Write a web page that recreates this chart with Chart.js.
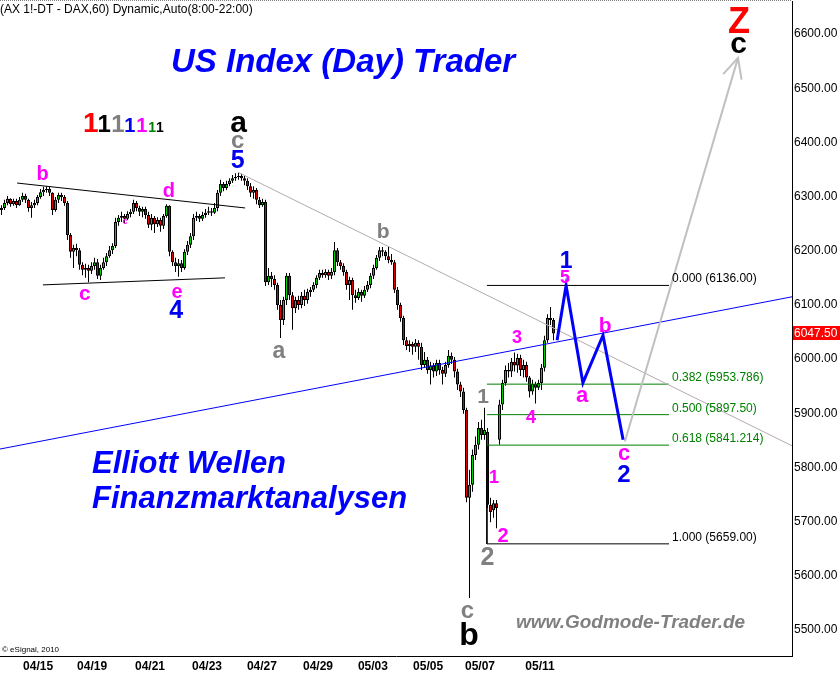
<!DOCTYPE html>
<html><head><meta charset="utf-8">
<script src="https://cdn.jsdelivr.net/npm/chart.js@4.4.1/dist/chart.umd.min.js"></script>
<style>html,body{margin:0;padding:0;background:#fff;overflow:hidden}#wrap{width:840px;height:673px;position:relative}</style>
</head><body><div id="wrap"><canvas id="c" width="840" height="673"></canvas></div>
<script>
// ---- hourly DAX bars ----
const opens=[6275,6279,6288,6296,6286,6292,6284,6294,6301,6294,
6279,6284,6288,6299,6308,6312,6314,6307,6275,6294,
6303,6299,6288,6229,6198,6205,6201,6174,6165,6168,
6163,6172,6179,6154,6168,6179,6190,6201,6209,6253,
6261,6264,6259,6268,6272,6288,6279,6272,6277,6266,
6248,6261,6249,6257,6246,6264,6283,6198,6179,6172,
6177,6168,6198,6211,6227,6261,6264,6259,6266,6270,
6273,6270,6279,6307,6323,6316,6323,6329,6334,6336,
6338,6334,6329,6319,6307,6312,6294,6284,6290,6142,
6154,6148,6137,6100,6072,6109,6154,6118,6094,6109,
6100,6117,6109,6124,6128,6137,6150,6159,6155,6161,
6154,6161,6201,6179,6172,6161,6137,6146,6118,6113,
6124,6117,6128,6137,6154,6168,6187,6201,6198,6190,
6183,6179,6128,6100,6076,6035,6024,6028,6023,6030,
6023,5989,5999,5980,5988,5977,5993,5980,5973,5989,
6006,5999,5977,5953,5940,5906,5744,5768,5823,5842,
5873,5860,5866,5731,5721,5734,5851,5916,5956,5980,
5977,5995,5988,6002,5980,5989,5966,5940,5954,5947,
5956,5984,6035,6076,6072];
const highs=[6284,6294,6301,6297,6296,6296,6299,6307,6305,6296,
6290,6294,6303,6314,6318,6319,6318,6308,6299,6307,
6307,6303,6292,6233,6211,6213,6205,6179,6176,6174,
6179,6187,6185,6174,6187,6196,6209,6214,6261,6266,
6272,6268,6273,6277,6294,6292,6283,6281,6281,6272,
6268,6264,6262,6261,6268,6286,6284,6201,6187,6185,
6183,6203,6218,6233,6268,6272,6268,6272,6277,6281,
6279,6288,6312,6331,6327,6329,6334,6340,6343,6345,
6342,6338,6334,6325,6319,6316,6299,6296,6294,6168,
6161,6155,6141,6109,6115,6159,6159,6124,6115,6117,
6124,6128,6130,6133,6142,6155,6165,6165,6166,6165,
6168,6216,6205,6183,6177,6165,6152,6150,6128,6131,
6128,6135,6144,6159,6174,6192,6207,6207,6201,6207,
6194,6183,6133,6104,6080,6041,6035,6032,6037,6035,
6030,6013,6004,5995,5993,5999,5999,5986,5995,6017,
6012,6004,5982,5958,5947,5910,5796,5833,5857,5884,
5888,5910,5873,5744,5740,5740,5925,5962,5988,5993,
6002,6012,6010,6008,5999,5995,5969,5962,5958,5962,
5991,6043,6083,6096,6076];
const lows=[6266,6275,6284,6281,6283,6279,6283,6290,6288,6272,
6261,6279,6284,6296,6301,6307,6301,6266,6272,6288,
6292,6283,6220,6187,6168,6190,6165,6155,6150,6142,
6157,6165,6148,6146,6165,6172,6187,6194,6205,6246,
6253,6251,6257,6262,6268,6273,6264,6262,6259,6242,
6238,6233,6244,6235,6240,6261,6190,6172,6161,6152,
6161,6165,6192,6205,6220,6255,6253,6255,6261,6266,
6264,6268,6273,6301,6310,6312,6319,6325,6329,6331,
6329,6321,6312,6299,6296,6286,6279,6281,6135,6137,
6133,6128,6091,6039,6063,6100,6109,6054,6085,6091,
6094,6098,6102,6115,6124,6131,6146,6150,6150,6146,
6148,6155,6172,6165,6154,6128,6109,6091,6104,6109,
6106,6113,6124,6131,6148,6165,6181,6190,6183,6177,
6174,6122,6091,6069,6026,6017,6013,6008,6013,5999,
5980,5984,5973,5953,5966,5969,5971,5953,5967,5984,
5991,5966,5943,5930,5899,5736,5559,5755,5814,5833,
5851,5851,5725,5699,5707,5688,5842,5906,5951,5966,
5967,5977,5975,5969,5966,5958,5929,5934,5918,5943,
5943,5977,6030,6063,6035];
const closes=[6279,6288,6296,6286,6292,6284,6294,6301,6294,6279,
6284,6288,6299,6308,6312,6314,6307,6275,6294,6303,
6299,6288,6229,6198,6205,6201,6174,6165,6168,6163,
6172,6179,6154,6168,6179,6190,6201,6209,6253,6261,
6264,6259,6268,6272,6288,6279,6272,6277,6266,6248,
6261,6249,6257,6246,6264,6283,6198,6179,6172,6177,
6168,6198,6211,6227,6261,6264,6259,6266,6270,6273,
6270,6279,6307,6323,6316,6323,6329,6334,6336,6338,
6334,6329,6319,6307,6312,6294,6284,6290,6142,6154,
6148,6137,6100,6072,6109,6154,6118,6094,6109,6100,
6117,6109,6124,6128,6137,6150,6159,6155,6161,6154,
6161,6201,6179,6172,6161,6137,6146,6118,6113,6124,
6117,6128,6137,6154,6168,6187,6201,6198,6190,6183,
6179,6128,6100,6076,6035,6024,6028,6023,6030,6023,
5989,5999,5980,5988,5977,5993,5980,5973,5989,6006,
5999,5977,5953,5940,5906,5744,5768,5823,5842,5873,
5860,5869,5731,5718,5734,5725,5916,5956,5980,5977,
5995,5988,6002,5980,5989,5966,5940,5954,5947,5956,
5984,6035,6076,6072,6047.5];
const lastPrice = 6047.5;

// ---- axis labels ----
const priceTicks   = [5500,5600,5700,5800,5900,6000,6100,6200,6300,6400,6500,6600];
const dateLabels   = ['04/15','04/19','04/21','04/23','04/27','04/29','05/03','05/05','05/07','05/11'];
const dateTickBars = [12.2, 30.2, 49.5, 68.5, 86.8, 105.5, 123.8, 142.2, 159.5, 179.5];

// ---- Fibonacci retracement ----
const fibRatios  = ['0.000','0.382','0.500','0.618','1.000'];
const fibPrices  = [6136, 5953.786, 5897.5, 5841.214, 5659];
const fibTexts   = ['6136.00','5953.786','5897.50','5841.214','5659.00'];
const fibFromBar = 161.8, fibToBar = 222.5;

// ---- drawn lines (bar index, price) ----
const triUpper   = [[5.2,6325],[81.2,6279]];
const triLower   = [[13.8,6137],[74.5,6150]];
const downTrend  = [[78.8,6345],[263.5,5840]];
const upTrend    = [[-0.5,5834],[263.5,6115]];
const bluePath   = [[185.2,6035],[188.2,6136],[193.8,5956],[200.5,6044],[207.2,5851]];
const grayArrow  = [[207.8,5848],[245.5,6556]];

// ---- wave labels (text, bar index, baseline price, colour key, size) ----
const waveLabels = [
 ['b',13.7,6331,'M',20],['c',27.8,6109,'M',21],['d',55.8,6299,'M',20],['e',58.5,6113,'M',20],['4',58.2,6076,'B',25],
 ['c',41.2,6249,'M',9],
 ['a',79,6419,'K',30],['c',78.7,6390,'G',24],['5',78.7,6353,'B',25],
 ['a',92.5,6002,'G',23],['b',127.2,6223,'G',21],
 ['1',188.2,6168,'B',23],['5',187.8,6140,'M',18],['3',171.8,6030,'M',18],['4',176.5,5882,'M',18],
 ['a',193.5,5921,'M',22],['b',201.2,6050,'M',21],
 ['1',160.5,5919,'G',21],['1',164.2,5771,'M',18],['2',167.2,5662,'M',20],['2',162,5620,'G',25],
 ['c',155.3,5522,'G',24],['b',155.8,5472,'K',32],
 ['c',207.5,5814,'M',22],['2',207.5,5773,'B',24],
 ['Z',245.8,6602,'R',36],['c',245.7,6565,'K',30],
 ['1',29.8,6419,'R',28],['1',34.2,6419,'K',24],['1',38.8,6419,'G',24],['1',42.8,6419,'B',20],
 ['1',46.8,6419,'M',20],['1',50.2,6419,'D',14],['1',52.8,6419,'K',14]
];
const COL = {M:'#ff00ff', B:'#0000ee', K:'#000000', G:'#808080', R:'#ff0000', D:'#008000'};

const F = '"Liberation Sans", Arial, Helvetica, sans-serif';
Chart.defaults.font.family = F;

const idx = closes.map((_, k) => k);
const wickData = idx.map(k => ({x:k, y:[lows[k], highs[k]]}));
const bodyData = idx.map(k => ({x:k, y:[opens[k], closes[k]]}));
const bodyColors = idx.map(k => closes[k] >= opens[k] ? '#00d000' : '#e00000');

function lineSet(pts, color, width, dash){
  return {type:'line', data: pts.map(p => ({x:p[0], y:p[1]})), borderColor:color, borderWidth:width,
    borderDash: dash || [], pointRadius:0, fill:false, tension:0, order:1};
}
const fibSets = fibPrices.map((p, k) => lineSet([[fibFromBar,p],[fibToBar,p]], (k===0||k===4)?'#000':'#008000', 1));
const fibVertical = lineSet([[fibFromBar,fibPrices[3]],[fibFromBar,fibPrices[4]]], '#000', 1);

const overlay = {
  id:'overlay',
  afterDraw(chart){
    const {ctx, chartArea:a, scales:{x, y}} = chart;
    ctx.save();
    // dotted top frame
    ctx.strokeStyle = '#808080'; ctx.lineWidth = 1; ctx.setLineDash([1,1]);
    ctx.beginPath(); ctx.moveTo(0, 0.5); ctx.lineTo(a.right, 0.5); ctx.stroke();
    ctx.setLineDash([]);
    // header
    ctx.fillStyle = '#000'; ctx.textAlign = 'left'; ctx.textBaseline = 'alphabetic';
    ctx.font = '12px ' + F;
    ctx.fillText('(AX 1!-DT - DAX,60) Dynamic,Auto(8:00-22:00)', 0, 13);
    // titles
    ctx.fillStyle = '#0000ff';
    ctx.font = 'italic bold 33px ' + F;
    ctx.fillText('US Index (Day) Trader', 171, 72);
    ctx.font = 'italic bold 31px ' + F;
    ctx.fillText('Elliott Wellen', 92, 473);
    ctx.fillText('Finanzmarktanalysen', 92, 508);
    ctx.fillStyle = '#808080';
    ctx.font = 'italic bold 19px ' + F;
    ctx.fillText('www.Godmode-Trader.de', 516, 628);
    ctx.fillStyle = '#000';
    ctx.font = '8px ' + F;
    ctx.fillText('\u00a9 eSignal, 2010', 2, 652);
    // fib labels
    ctx.font = '12px ' + F;
    fibPrices.forEach((p, k) => {
      ctx.fillStyle = (k===0||k===4) ? '#000' : '#008000';
      ctx.fillText(fibRatios[k] + ' (' + fibTexts[k] + ')', x.getPixelForValue(fibToBar) + 3, y.getPixelForValue(p) - 3);
    });
    // wave labels
    ctx.textAlign = 'center';
    waveLabels.forEach(([t, i, p, c, s]) => {
      ctx.fillStyle = COL[c];
      ctx.font = 'bold ' + s + 'px ' + F;
      ctx.fillText(t, x.getPixelForValue(i), y.getPixelForValue(p));
    });
    // arrow head
    const x0 = x.getPixelForValue(grayArrow[0][0]), y0 = y.getPixelForValue(grayArrow[0][1]);
    const x1 = x.getPixelForValue(grayArrow[1][0]), y1 = y.getPixelForValue(grayArrow[1][1]);
    const ang = Math.atan2(y0 - y1, x0 - x1);
    ctx.strokeStyle = '#c0c0c0'; ctx.lineWidth = 2;
    ctx.beginPath();
    ctx.moveTo(x1 + 22*Math.cos(ang+0.45), y1 + 22*Math.sin(ang+0.45)); ctx.lineTo(x1, y1);
    ctx.lineTo(x1 + 22*Math.cos(ang-0.45), y1 + 22*Math.sin(ang-0.45));
    ctx.stroke();
    // last price box
    const py = Math.round(y.getPixelForValue(lastPrice));
    ctx.fillStyle = '#ff0000';
    ctx.fillRect(a.right + 1, py - 7, 840 - a.right - 1, 14);
    ctx.fillStyle = '#fff'; ctx.textAlign = 'left'; ctx.textBaseline = 'middle';
    ctx.font = '12px ' + F;
    ctx.fillText(lastPrice.toFixed(2), a.right + 2, py + 1);
    ctx.restore();
  }
};

new Chart(document.getElementById('c'), {
  type:'bar',
  data:{datasets:[
    lineSet(bluePath, '#0000ff', 3),
    lineSet(grayArrow, '#c0c0c0', 2),
    lineSet(upTrend, '#0000ff', 1),
    lineSet(downTrend, '#b4aab0', 1),
    lineSet(triUpper, '#000', 1),
    lineSet(triLower, '#000', 1),
    ...fibSets, fibVertical,
    {type:'bar', data: bodyData, backgroundColor: bodyColors, borderColor:'#000', borderWidth:1,
      borderSkipped:false, barThickness:3, minBarLength:1, inflateAmount:0, grouped:false, order:2},
    {type:'bar', data: wickData, backgroundColor:'#000', borderWidth:0, barThickness:1,
      inflateAmount:0, grouped:false, order:3}
  ]},
  options:{
    responsive:false, animation:false, devicePixelRatio:1,
    layout:{padding:{top:1, left:0, right:0, bottom:0}},
    plugins:{legend:{display:false}, tooltip:{enabled:false}, title:{display:false}},
    scales:{
      x:{type:'linear', min:-0.5, max:263.5, offset:false,
         grid:{display:false, drawTicks:false, offset:false},
         border:{display:true, color:'#000', width:1},
         ticks:{autoSkip:false, maxRotation:0, padding:3, color:'#000', font:{size:12, weight:'bold'},
                callback:(v, k) => dateLabels[k]},
         afterBuildTicks: s => { s.ticks = dateTickBars.map(v => ({value:v})); },
         afterFit: s => { s.height = 17; s.paddingLeft = 0; s.paddingRight = 0; }},
      y:{type:'linear', position:'right', min:5452, max:6661,
         grid:{display:false, drawTicks:false},
         border:{display:true, color:'#000', width:1},
         ticks:{autoSkip:false, padding:2, color:'#000', font:{size:12},
                callback: v => Number(v).toFixed(2)},
         afterBuildTicks: s => { s.ticks = priceTicks.map(v => ({value:v})); },
         afterFit: s => { s.width = 48; s.paddingTop = 0; s.paddingBottom = 0; }}
    }
  },
  plugins:[overlay]
});
</script></body></html>
